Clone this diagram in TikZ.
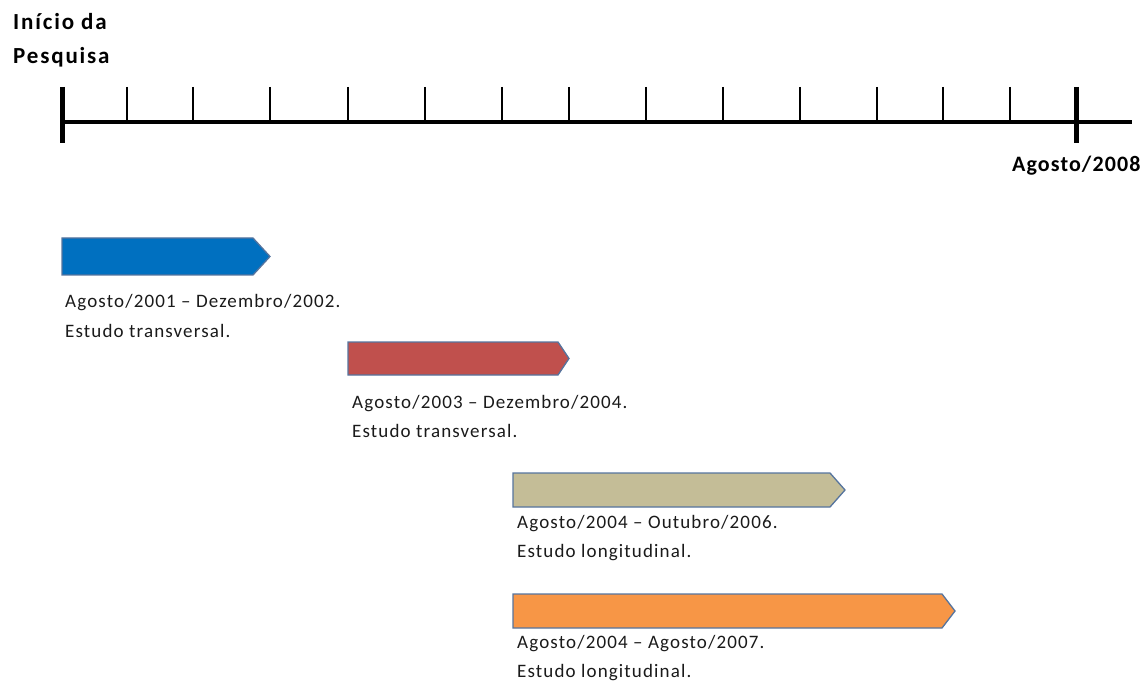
\documentclass[tikz,border=0pt]{standalone}
\usepackage{fontspec}
\setmainfont{Carlito}
\usepackage{xcolor}
\usepackage{tikz}

\definecolor{azul}{HTML}{0070C0}
\definecolor{vermelho}{HTML}{C0504D}
\definecolor{areia}{HTML}{C4BD97}
\definecolor{laranja}{HTML}{F79646}
\definecolor{contorno}{HTML}{56749E}
\definecolor{texto}{HTML}{1A1A1A}

\begin{document}
\begin{tikzpicture}[
	x=1pt, y=-1pt,
	barra/.style={draw=contorno,line width=1.3pt},
	legenda/.style={anchor=base west,inner sep=0pt,align=left,text=texto,
		font=\fontsize{19}{29}\selectfont\addfontfeature{LetterSpace=6}},
	marco/.style={anchor=base west,inner sep=0pt,align=left,
		font=\fontsize{22}{34}\selectfont\bfseries\addfontfeature{LetterSpace=5}}
]
	\useasboundingbox (0,0) rectangle (1147,684);
	% linha do tempo
	\draw[line width=4.5pt] (62,122) -- (1132,122);
	\draw[line width=5pt] (62,87) -- (62,143);
	\draw[line width=5pt] (1076,87) -- (1076,143);
	\foreach \x in {127,193,270,348,425,502,569,646,723,800,877,943,1010}
		\draw[line width=2.4pt] (\x,87) -- (\x,122);
	% (base da ultima linha)
	\node[marco,font=\fontsize{23}{34}\selectfont\bfseries\addfontfeature{LetterSpace=8}] (inicio) at (13,64) {Início da\\Pesquisa};
	\node[marco] (fim) at (1012,172) {Agosto/2008};
	% fases
	\draw[barra,fill=azul] (62,238) -- (253,238) -- (270,256.5) -- (253,275) -- (62,275) -- cycle;
	\node[legenda] (fase1) at (65,337) {Agosto/2001 – Dezembro/2002.\\Estudo transversal.};
	\draw[barra,fill=vermelho] (348,342) -- (558,342) -- (569,358.5) -- (558,375) -- (348,375) -- cycle;
	\node[legenda] (fase2) at (352,437) {Agosto/2003 – Dezembro/2004.\\Estudo transversal.};
	\draw[barra,fill=areia] (513,473) -- (830,473) -- (845,490) -- (830,507) -- (513,507) -- cycle;
	\node[legenda] (fase3) at (517,557) {Agosto/2004 – Outubro/2006.\\Estudo longitudinal.};
	\draw[barra,fill=laranja] (513,594) -- (942,594) -- (955,611) -- (942,628) -- (513,628) -- cycle;
	\node[legenda] (fase4) at (517,677) {Agosto/2004 – Agosto/2007.\\Estudo longitudinal.};
\end{tikzpicture}
\end{document}
